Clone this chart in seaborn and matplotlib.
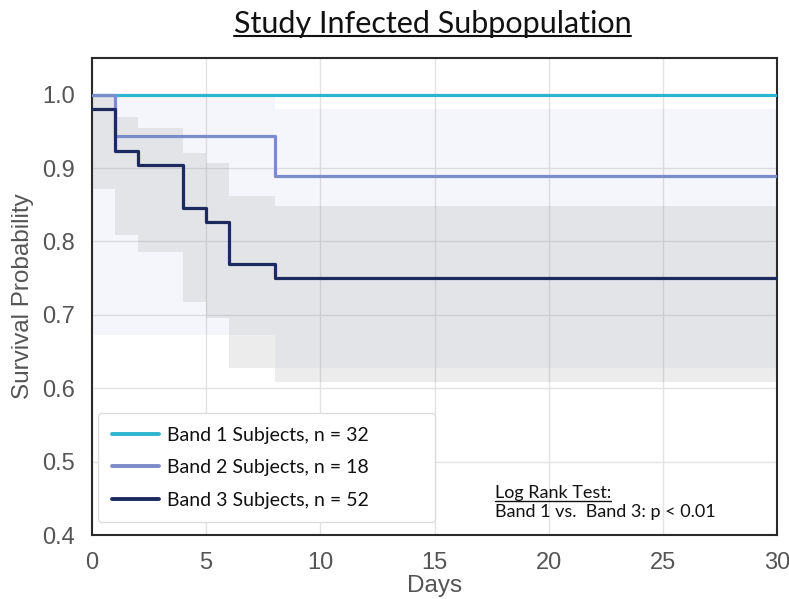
import numpy as np
import pandas as pd
import matplotlib
matplotlib.use("Agg")
import matplotlib.pyplot as plt
import seaborn as sns
from matplotlib.lines import Line2D

# ---- data ----
labels = ["Band 1 Subjects, n = 32", "Band 2 Subjects, n = 18", "Band 3 Subjects, n = 52"]
colors = ["#2bb5cf", "#7b8cc9", "#1d2a5e"]

t1 = [0, 30]
s1 = [1.0, 1.0]

t2 = [0, 1, 8, 30]
s2 = [1.0, 0.944, 0.889, 0.889]
lo2 = [0.672, 0.672, 0.628, 0.628]
hi2 = [1.0, 1.0, 0.98, 0.98]

t3 = [0, 1, 2, 4, 5, 6, 8, 30]
s3 = [0.981, 0.923, 0.904, 0.846, 0.827, 0.769, 0.75, 0.75]
lo3 = [0.871, 0.809, 0.785, 0.717, 0.696, 0.627, 0.608, 0.608]
hi3 = [1.0, 0.97, 0.955, 0.920, 0.907, 0.862, 0.848, 0.848]

x_ticks = [0, 5, 10, 15, 20, 25, 30]
y_ticks = [0.4, 0.5, 0.6, 0.7, 0.8, 0.9, 1.0]

title = "Study Infected Subpopulation"
annot_head = "Log Rank Test:"
annot_body = "Band 1 vs.  Band 3: p < 0.01"

# ---- style ----
sns.set_theme(style="whitegrid")
plt.rcParams["font.family"] = ["Liberation Sans", "DejaVu Sans"]

fig = plt.figure(figsize=(7.89, 5.99), dpi=100)
ax = fig.add_axes([0.1166, 0.1068, 0.8682, 0.7964])

df = pd.concat([
    pd.DataFrame({"Days": t1, "S": s1, "grp": labels[0]}),
    pd.DataFrame({"Days": t2, "S": s2, "grp": labels[1]}),
    pd.DataFrame({"Days": t3, "S": s3, "grp": labels[2]}),
])

# confidence bands
ax.fill_between(t2, lo2, hi2, step="post", color=colors[1], alpha=0.07, linewidth=0, zorder=1)
ax.fill_between(t3, lo3, hi3, step="post", color="#808080", alpha=0.15, linewidth=0, zorder=1)

sns.lineplot(data=df, x="Days", y="S", hue="grp", palette=dict(zip(labels, colors)),
             estimator=None, drawstyle="steps-post", linewidth=2.3, ax=ax, legend=False,
             zorder=3)

ax.set_xlim(0, 30)
ax.set_ylim(0.4, 1.05)
ax.set_xticks(x_ticks)
ax.set_xticklabels([str(v) for v in x_ticks])
ax.set_yticks(y_ticks)
ax.set_yticklabels([f"{v:.1f}" for v in y_ticks])
ax.tick_params(axis="both", labelsize=17, labelcolor="#555555", length=0)
ax.tick_params(axis="y", pad=12)
ax.tick_params(axis="x", pad=12)
ax.set_xlabel("Days", fontsize=17.5, color="#555555", labelpad=1)
ax.set_ylabel("Survival Probability", fontsize=17.5, color="#555555", labelpad=6)
ax.grid(True, color="#e2e2e2", linewidth=1.0)
for sp in ax.spines.values():
    sp.set_color("#2a2a2a")
    sp.set_linewidth(1.5)
    sp.set_visible(True)

handles = [Line2D([0], [0], color=c, lw=2.8) for c in colors]
leg = ax.legend(handles, labels, loc="lower left",
                bbox_to_anchor=(0.0092, 0.0266, 0.4915, 0.2),
                mode="expand", borderaxespad=0.0,
                prop={"family": "Lato", "size": 14}, frameon=True, fancybox=True,
                handlelength=2.4, handletextpad=0.45, labelspacing=0.8,
                borderpad=0.7, edgecolor="#dddddd", framealpha=1.0)
for txt in leg.get_texts():
    txt.set_color("#111111")

ax.text(0.588, 0.0776, annot_head, transform=ax.transAxes, fontsize=13,
        family="Lato", color="#111111", ha="left", va="baseline")
ax.text(0.588, 0.0377, annot_body, transform=ax.transAxes, fontsize=13,
        family="Lato", color="#111111", ha="left", va="baseline")

ttl = fig.text(0.548, 0.945, title, fontsize=22, family="Lato", color="#111111",
               ha="center", va="baseline")
head = ax.texts[0]

fig.canvas.draw()
r = fig.canvas.get_renderer()
inv = fig.transFigure.inverted()
for t, off, lw in [(ttl, 4, 1.5), (head, 3, 1.0)]:
    bb = t.get_window_extent(renderer=r)
    x0, _ = inv.transform((bb.x0, bb.y0))
    x1, _ = inv.transform((bb.x1, bb.y0))
    desc_px = bb.height * 0.2
    _, yb = inv.transform((0, bb.y0 + desc_px - off))
    fig.add_artist(Line2D([x0, x1], [yb, yb], transform=fig.transFigure,
                          color="#111111", lw=lw))

fig.savefig("out.png", dpi=100)
